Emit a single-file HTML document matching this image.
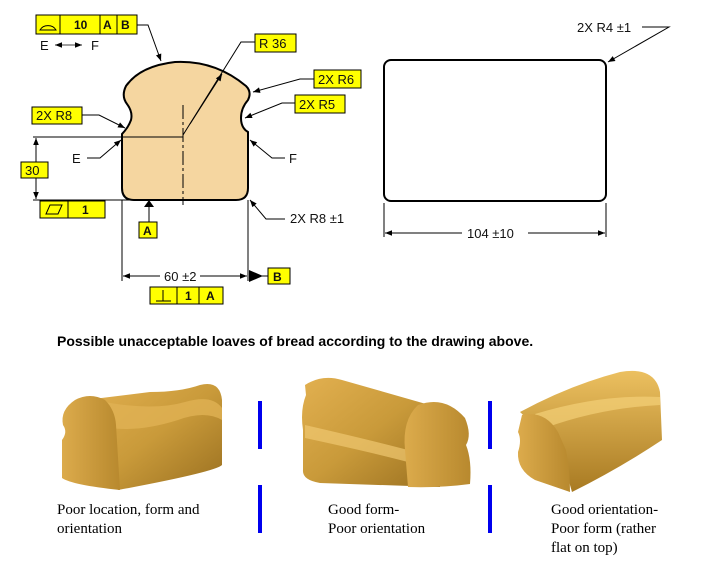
<!DOCTYPE html>
<html><head><meta charset="utf-8"><style>
html,body{margin:0;padding:0;background:#fff;}
svg{display:block;}
.t{font-family:"Liberation Sans",sans-serif;font-size:13px;fill:#111;}
.b{font-family:"Liberation Sans",sans-serif;font-size:12px;font-weight:bold;fill:#111;}
.c{font-family:"Liberation Serif",serif;font-size:15px;fill:#000;}
</style></head><body>
<svg width="725" height="585" viewBox="0 0 725 585" xmlns="http://www.w3.org/2000/svg">
<defs>
<marker id="a" viewBox="0 0 10 10" refX="10" refY="5" markerWidth="9" markerHeight="7" orient="auto-start-reverse" markerUnits="userSpaceOnUse"><path d="M0,1 L10,5 L0,9 z" fill="#000"/></marker>
<linearGradient id="g1" x1="0" y1="0" x2="1" y2="1"><stop offset="0" stop-color="#e2b050"/><stop offset="0.5" stop-color="#c99a3a"/><stop offset="1" stop-color="#9a7020"/></linearGradient>
<linearGradient id="g2" x1="0" y1="0" x2="1" y2="0"><stop offset="0" stop-color="#dcab4c"/><stop offset="1" stop-color="#b8892e"/></linearGradient>
<linearGradient id="g3" x1="0" y1="0" x2="0" y2="1"><stop offset="0" stop-color="#ecc060"/><stop offset="1" stop-color="#a87a22"/></linearGradient>
</defs>
<g stroke="#000" fill="none" stroke-width="1">
<path d="M134,200 L236,200 Q248,200 248,188 L248,132 Q241,128 241,118 Q241,108 248,100 Q252,92 246,86 Q215,60 175,62 Q140,66 126,86 Q121,96 127,104 Q133,112 131,120 Q128,128 122,134 L122,188 Q122,200 134,200 Z" fill="#f5d6a0" stroke-width="2"/>
<line x1="183" y1="105" x2="183" y2="205" stroke-dasharray="14,3,3,3"/>
<polyline points="137,25 148,25 161,61" marker-end="url(#a)"/>
<line x1="55" y1="45" x2="82" y2="45" marker-start="url(#a)" marker-end="url(#a)" stroke-width="0.8"/>
<polyline points="255,42 241,42 183,135" />
<line x1="190" y1="124" x2="222" y2="74" marker-end="url(#a)"/>
<polyline points="314,79 300,79 253,92" marker-end="url(#a)"/>
<polyline points="295,103 282,103 245,118" marker-end="url(#a)"/>
<polyline points="82,115 99,115 125,128" marker-end="url(#a)"/>
<line x1="33" y1="137" x2="183" y2="137"/>
<polyline points="87,158 100,158 121,140" marker-end="url(#a)"/>
<polyline points="285,158 272,158 250,140" marker-end="url(#a)"/>
<line x1="36" y1="138" x2="36" y2="162" marker-start="url(#a)"/>
<line x1="36" y1="178" x2="36" y2="199" marker-end="url(#a)"/>
<line x1="33" y1="200" x2="184" y2="200"/>
<polyline points="250,200 266,219 285,219" marker-start="url(#a)"/>
<line x1="122" y1="200" x2="122" y2="281"/>
<line x1="248" y1="200" x2="248" y2="281"/>
<line x1="123" y1="276" x2="160" y2="276" marker-start="url(#a)"/>
<line x1="200" y1="276" x2="247" y2="276" marker-end="url(#a)"/>
<line x1="149" y1="200" x2="149" y2="222"/>
<rect x="384" y="60" width="222" height="141" rx="7" stroke-width="2"/>
<polyline points="642,27 669,27 608,62" marker-end="url(#a)"/>
<line x1="384" y1="203" x2="384" y2="237"/>
<line x1="606" y1="203" x2="606" y2="237"/>
<line x1="385" y1="233" x2="462" y2="233" marker-start="url(#a)"/>
<line x1="528" y1="233" x2="605" y2="233" marker-end="url(#a)"/>
</g>
<path d="M144,207 L154,207 L149,200 Z" fill="#000"/>
<path d="M249,270 L263,276 L249,282 Z" fill="#000"/>
<line x1="262" y1="276" x2="268" y2="276" stroke="#000"/>
<g stroke="#000" stroke-width="1" fill="#ffff00">
<rect x="36" y="15" width="101" height="19"/>
<line x1="60" y1="15" x2="60" y2="34"/><line x1="100" y1="15" x2="100" y2="34"/><line x1="117" y1="15" x2="117" y2="34"/>
<rect x="255" y="34" width="41" height="18"/>
<rect x="314" y="70" width="47" height="18"/>
<rect x="295" y="95" width="50" height="18"/>
<rect x="32" y="107" width="50" height="17"/>
<rect x="21" y="162" width="27" height="16"/>
<rect x="40" y="201" width="65" height="17"/><line x1="68" y1="201" x2="68" y2="218"/>
<rect x="139" y="222" width="18" height="16"/>
<rect x="268" y="268" width="22" height="16"/>
<rect x="150" y="287" width="73" height="17"/><line x1="177" y1="287" x2="177" y2="304"/><line x1="199" y1="287" x2="199" y2="304"/>
</g>
<path d="M40,30 A9,8 0 0 1 56,30 Z" fill="none" stroke="#000"/>
<path d="M46,214 L50,205 L62,205 L58,214 Z" fill="none" stroke="#000"/>
<line x1="163" y1="290" x2="163" y2="301" stroke="#000"/><line x1="156" y1="301" x2="171" y2="301" stroke="#000"/>
<text class="b" x="74" y="29">10</text><text class="b" x="103" y="29">A</text><text class="b" x="121" y="29">B</text>
<text class="t" x="40" y="50">E</text><text class="t" x="91" y="50">F</text>
<text class="t" x="259" y="48">R 36</text>
<text class="t" x="318" y="84">2X R6</text>
<text class="t" x="299" y="109">2X R5</text>
<text class="t" x="36" y="120">2X R8</text>
<text class="t" x="72" y="163">E</text>
<text class="t" x="289" y="163">F</text>
<text class="t" x="25" y="175">30</text>
<text class="b" x="82" y="214">1</text>
<text class="b" x="143" y="235">A</text>
<text class="t" x="290" y="223">2X R8 ±1</text>
<text class="t" x="164" y="281">60 ±2</text>
<text class="b" x="273" y="281">B</text>
<text class="b" x="185" y="300">1</text><text class="b" x="206" y="300">A</text>
<text class="t" x="577" y="32">2X R4 ±1</text>
<text class="t" x="467" y="238">104 ±10</text>
<text x="57" y="346" font-family="Liberation Sans,sans-serif" font-size="14" font-weight="bold" fill="#000">Possible unacceptable loaves of bread according to the drawing above.</text>
<g fill="#0000ee"><rect x="258" y="401" width="4" height="48"/><rect x="258" y="485" width="4" height="48"/><rect x="488" y="401" width="4" height="48"/><rect x="488" y="485" width="4" height="48"/></g>
<!-- loaf 1 -->
<path d="M85,400 L150,392 Q180,392 200,385 Q220,380 222,400 L222,465 Q215,472 118,490 L100,440 Z" fill="url(#g1)"/>
<path d="M95,400 Q150,412 185,402 Q212,394 222,408 L222,420 Q205,410 178,420 Q140,432 110,428 Z" fill="#e0b254" opacity="0.8"/>
<path d="M75,400 Q90,392 105,400 Q115,410 116,425 L120,490 Q72,485 62,478 L62,440 Q68,432 63,425 Q60,410 75,400 Z" fill="url(#g2)"/>
<!-- loaf 2 -->
<path d="M305,385 Q322,374 342,380 L440,408 L440,487 L320,483 Q302,480 303,470 L303,430 Q300,410 306,395 Z" fill="url(#g1)"/>
<path d="M305,425 Q370,440 408,450 L408,462 Q370,452 305,438 Z" fill="#f0c870" opacity="0.7"/>
<path d="M418,405 Q445,395 465,418 Q472,435 466,445 Q472,460 470,484 Q440,488 408,487 L405,450 Q402,420 418,405 Z" fill="url(#g2)"/>
<!-- loaf 3 -->
<path d="M520,412 Q570,385 620,372 Q655,366 660,392 L662,440 Q620,468 572,492 L560,450 Z" fill="url(#g3)"/>
<path d="M535,414 Q600,394 660,397 L660,405 Q600,408 545,428 Z" fill="#f4d078" opacity="0.7"/>
<path d="M522,415 Q545,410 558,432 L566,450 Q570,470 570,492 L535,480 Q517,470 518,452 Q522,440 518,432 Z" fill="url(#g2)"/>
<text class="c" x="57" y="514">Poor location,  form and</text>
<text class="c" x="57" y="533">orientation</text>
<text class="c" x="328" y="514">Good form-</text>
<text class="c" x="328" y="533">Poor orientation</text>
<text class="c" x="551" y="514">Good orientation-</text>
<text class="c" x="551" y="533">Poor form (rather</text>
<text class="c" x="551" y="552">flat on top)</text>
</svg>
</body></html>
